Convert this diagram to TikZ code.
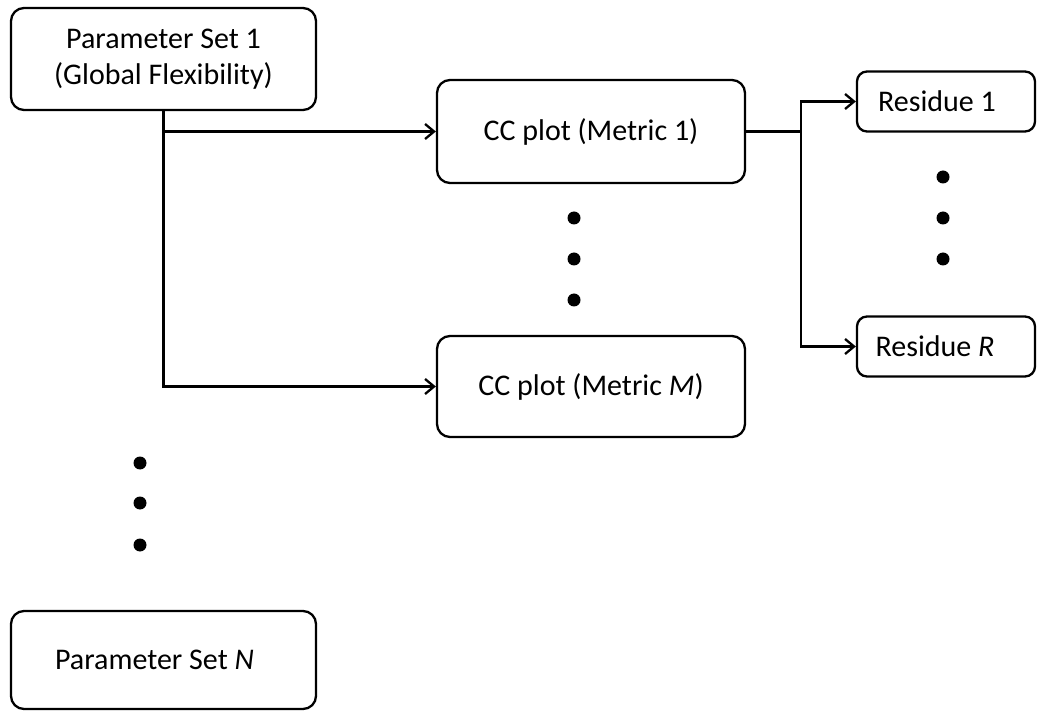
\documentclass[tikz,border=0pt]{standalone}
\usepackage{fontspec}
\setmainfont{Carlito}
\usetikzlibrary{arrows.meta}
\begin{document}
\begin{tikzpicture}[x=1pt,y=-1pt,
  box/.style={draw, line width=2.3pt, rounded corners=13pt, inner sep=0pt,
    font=\fontsize{30}{36}\selectfont, align=center},
  resbox/.style={draw, line width=2.3pt, rounded corners=10pt, inner sep=0pt,
    minimum width=178pt, minimum height=60pt, align=center,
    font=\fontsize{30}{36}\selectfont},
  link/.style={line width=2.3pt},
  arr/.style={link, -{Straight Barb[length=9pt, width=15pt, line width=2.3pt]}},
  dot/.style={fill=black}
]
\useasboundingbox (0,0) rectangle (1037,711);

% parameter sets
\node[box, minimum width=305pt, minimum height=102pt] (ps1) at (163.5,59)
  {Parameter Set 1\\(Global Flexibility)};
\node[box, minimum width=305pt, minimum height=98pt] (psn) at (163.5,660)
  {Parameter Set \textit{N}\hspace*{18pt}};

% CC plots
\node[box, minimum width=308pt, minimum height=103pt] (cc1) at (591,131.5)
  {CC plot (Metric 1)};
\node[box, minimum width=308pt, minimum height=101pt] (ccm) at (591,386.5)
  {CC plot (Metric \textit{M})};

% residues
\node[resbox] (r1) at (946,101.5) {Residue 1\hspace*{18pt}};
\node[resbox] (rr) at (946,346.5) {Residue \textit{R}\hspace*{22pt}};

% connectors
\draw[arr] (ps1.south) |- (cc1.west);
\draw[arr] (ps1.south) |- (ccm.west);
\draw[link] (cc1.east) -- ++(55,0) coordinate (fork);
\draw[arr] (fork) |- (r1.west);
\draw[arr] (fork) |- (rr.west);

% ellipsis dots
\foreach \y in {463,503,545} \fill[dot] (140,\y) circle (6.5pt);
\foreach \y in {218,259,300} \fill[dot] (574,\y) circle (6.5pt);
\foreach \y in {177,218,259} \fill[dot] (943,\y) circle (6.5pt);
\end{tikzpicture}
\end{document}
